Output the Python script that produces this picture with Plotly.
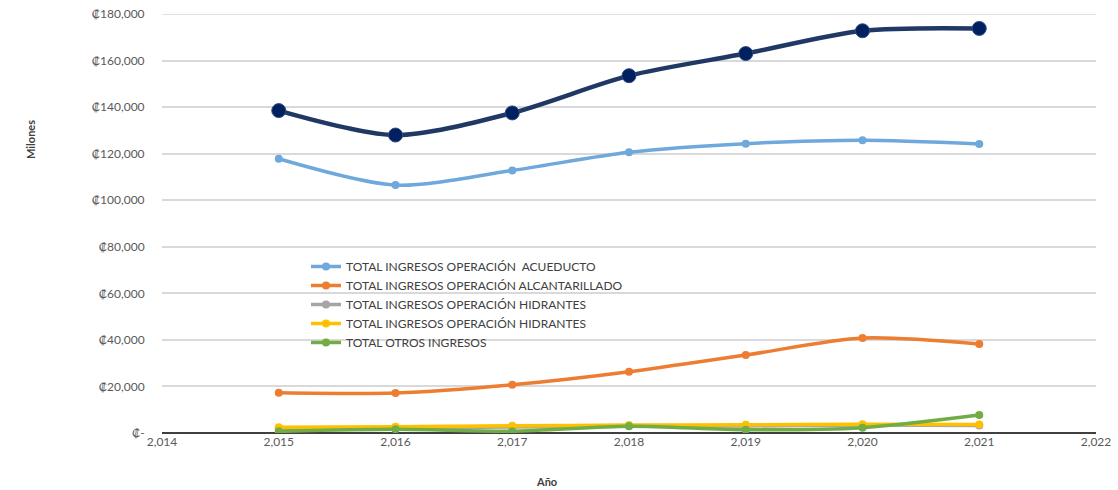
import plotly.graph_objects as go

# data (millones de colones)
years = [2015, 2016, 2017, 2018, 2019, 2020, 2021]
total_ingresos = [138500, 128000, 137500, 153500, 163000, 172800, 173800]
acueducto = [117800, 106500, 112800, 120600, 124300, 125800, 124200]
alcantarillado = [17300, 17200, 20700, 26300, 33500, 40800, 38200]
hidrantes_gris = [2000, 2200, 2600, 3000, 3000, 3400, 3200]
hidrantes = [2500, 2700, 3100, 3400, 3500, 3800, 3600]
otros = [700, 1600, 800, 2900, 1400, 2300, 7700]

y_tickvals = [0, 20000, 40000, 60000, 80000, 100000, 120000, 140000, 160000, 180000]
y_ticktext = ['₡-', '₡20,000', '₡40,000', '₡60,000', '₡80,000', '₡100,000',
              '₡120,000', '₡140,000', '₡160,000', '₡180,000']
x_tickvals = [2014, 2015, 2016, 2017, 2018, 2019, 2020, 2021, 2022]

FONT = 'Lato'
TICK_COLOR = '#595959'

series = [
    ('TOTAL INGRESOS OPERACIÓN  ACUEDUCTO', acueducto, '#6FA8DC'),
    ('TOTAL INGRESOS OPERACIÓN ALCANTARILLADO', alcantarillado, '#ED7D31'),
    ('TOTAL INGRESOS OPERACIÓN HIDRANTES', hidrantes_gris, '#A5A5A5'),
    ('TOTAL INGRESOS OPERACIÓN HIDRANTES', hidrantes, '#FFC000'),
    ('TOTAL OTROS INGRESOS', otros, '#70AD47'),
]

fig = go.Figure()
for name, values, color in series:
    fig.add_trace(go.Scatter(
        x=years, y=values, name=name,
        mode='lines+markers',
        line=dict(color=color, width=3.5, shape='spline', smoothing=0.8),
        marker=dict(color=color, size=8),
    ))

fig.add_trace(go.Scatter(
    x=years, y=total_ingresos, name='TOTAL INGRESOS',
    mode='lines+markers', showlegend=False,
    line=dict(color='#203864', width=4.5, shape='spline', smoothing=0.8),
    marker=dict(color='#002060', size=14, line=dict(color='#2F4A80', width=1)),
))

# plot area in pixels: x 162..1096, y 14..433
fig.update_layout(
    width=1118, height=490,
    paper_bgcolor='white', plot_bgcolor='white',
    margin=dict(l=162, r=22, t=14, b=57, autoexpand=False),
    font=dict(family=FONT, size=12, color=TICK_COLOR),
    legend=dict(
        x=(306 - 162) / 934, y=(433 - 252) / 419, xanchor='left', yanchor='top',
        bgcolor='rgba(0,0,0,0)', font=dict(size=12, color='#404040'),
        tracegroupgap=0,
    ),
    annotations=[
        dict(text='<b>Milones</b>', x=(30 - 162) / 934, y=(433 - 140) / 419,
             xref='paper', yref='paper', xanchor='center', yanchor='middle',
             showarrow=False, textangle=-90, font=dict(size=11, color='#404040')),
        dict(text='<b>Año</b>', x=(546 - 162) / 934, y=(433 - 481) / 419,
             xref='paper', yref='paper', xanchor='center', yanchor='middle',
             showarrow=False, font=dict(size=11, color='#404040')),
    ],
)

fig.update_xaxes(
    range=[2014, 2022], tickvals=x_tickvals, tickformat=',d',
    showgrid=False, zeroline=False, automargin=False,
    showline=False, ticks='', tickfont=dict(size=12, color=TICK_COLOR),
)
fig.update_yaxes(
    range=[0, 180000], tickvals=y_tickvals, ticktext=y_ticktext,
    showgrid=True, gridcolor='#D9D9D9', gridwidth=1.5, automargin=False,
    zeroline=True, zerolinecolor='#404040', zerolinewidth=2,
    showline=True, linecolor='rgba(0,0,0,0)', mirror=False,
    ticks='', ticklabelstandoff=14,
    tickfont=dict(size=12, color=TICK_COLOR),
)
# plotly skips the grid line at the very top of the range, so draw it as a shape
fig.add_hline(y=y_tickvals[-1], line=dict(color='#D9D9D9', width=1.5), layer='below')

# drop the default 8px page margin so the figure sits at the window's corner
fig.write_html('out.html', config={'displayModeBar': False},
               post_script="document.body.style.margin='0';")
